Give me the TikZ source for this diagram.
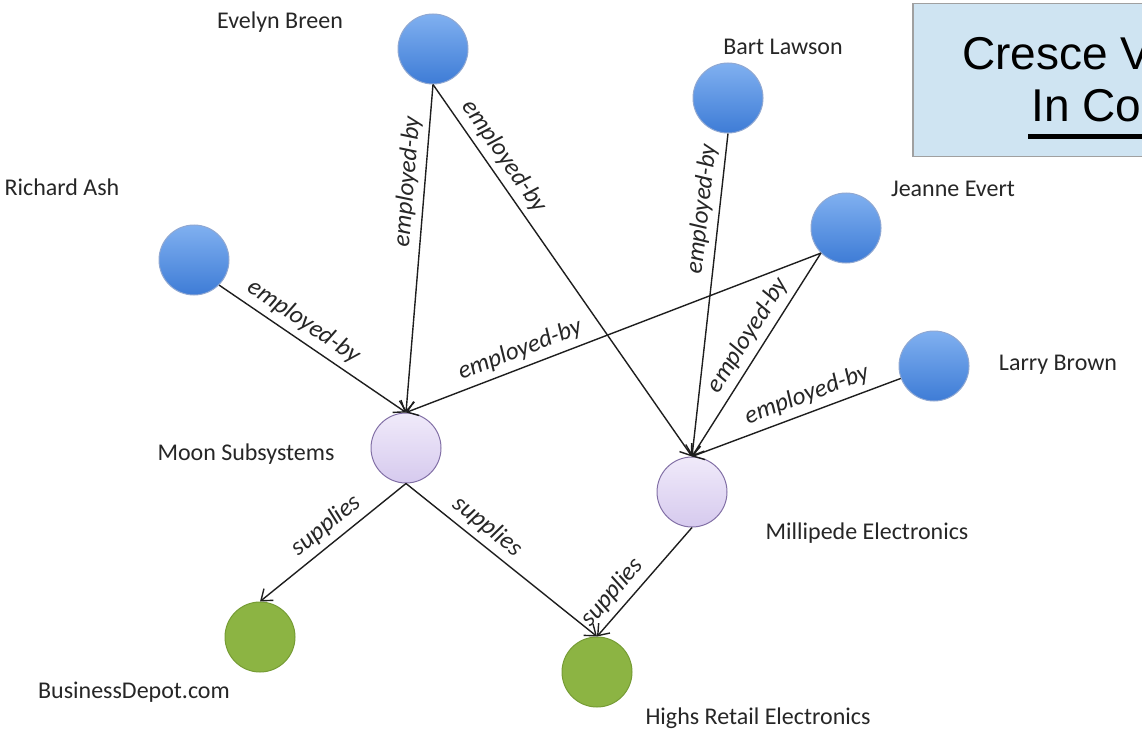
\documentclass[tikz,border=0pt]{standalone}
\usepackage{fontspec}
\setmainfont{Carlito}
\newfontfamily\boxfont{Liberation Sans}
\usetikzlibrary{arrows.meta}

\definecolor{edgeink}{RGB}{30,30,30}
\definecolor{bluetop}{RGB}{128,176,240}
\definecolor{bluebot}{RGB}{62,124,214}
\definecolor{blueline}{RGB}{70,110,180}
\definecolor{purptop}{RGB}{240,234,250}
\definecolor{purpbot}{RGB}{214,202,238}
\definecolor{purpline}{RGB}{130,112,166}
\definecolor{greenfill}{RGB}{140,180,67}
\definecolor{greenline}{RGB}{118,156,52}
\definecolor{notefill}{RGB}{207,228,242}
\definecolor{noteline}{RGB}{160,160,160}

\tikzset{
  ball/.style={circle, minimum size=70pt, inner sep=0pt, line width=1pt},
  person/.style={ball, draw=blueline!60, top color=bluetop, bottom color=bluebot},
  company/.style={ball, draw=purpline, top color=purptop, bottom color=purpbot},
  shop/.style={ball, draw=greenline, fill=greenfill},
  caption/.style={font=\fontsize{24}{27}\selectfont, text=black!85, inner sep=0pt},
  relarrow/.style={draw=edgeink, line width=1.4pt, -{Straight Barb[length=10pt,width=15pt]}},
  rellab/.style={font=\itshape\fontsize{25}{27}\selectfont, text=black!85, sloped, above, inner sep=6pt},
}

\begin{document}
\begin{tikzpicture}[x=1pt,y=-1pt]
\useasboundingbox (0,0) rectangle (1142,730);
\clip (0,0) rectangle (1142,730);

% note box in the upper right corner
\node[draw=noteline, line width=1.5pt, fill=notefill, minimum width=260pt, minimum height=153pt,
      anchor=north west, inner sep=0pt] (note) at (912,3) {};
\node[font=\boxfont\fontsize{46}{50}\selectfont, anchor=base west, inner sep=0pt] (notetitle) at (962,70) {Cresce V};
\node[font=\boxfont\fontsize{46}{50}\selectfont, anchor=base west, inner sep=0pt] (notelink) at (1031,122) {In Co};
\coordinate (ulstart) at (1028,136.5);
\coordinate (ulend) at (1150,136.5);
\draw[line width=5.5pt] (ulstart) -- (ulend);

% people
\node[person] (evelyn) at (433,49) {};
\node[person] (bart) at (728,98) {};
\node[person] (jeanne) at (846,228) {};
\node[person] (richard) at (194,260) {};
\node[person] (larry) at (934,366) {};

% companies
\node[company] (moon) at (406,448) {};
\node[company] (milli) at (692,492) {};

% retailers
\node[shop] (business) at (260,637) {};
\node[shop] (highs) at (597,672) {};

% captions
\node[caption] (evelynlab) at (280,22) {Evelyn Breen};
\node[caption] (bartlab) at (783,47) {Bart Lawson};
\node[caption] (jeannelab) at (953,189) {Jeanne Evert};
\node[caption] (richardlab) at (62,187) {Richard Ash};
\node[caption] (larrylab) at (1058,365) {Larry Brown};
\node[caption] (moonlab) at (246,454) {Moon Subsystems};
\node[caption] (millilab) at (867,533) {Millipede Electronics};
\node[caption] (businesslab) at (134,692) {BusinessDepot.com};
\node[caption] (highslab) at (758,718) {Highs Retail Electronics};

% employment
\draw[relarrow] (evelyn.south) -- node[rellab, pos=0.30] {employed-by} (moon.north);
\draw[relarrow] (evelyn.south) -- node[rellab, pos=0.22] {employed-by} (milli.north);
\draw[relarrow] (bart.south) -- node[rellab, pos=0.24] {employed-by} (milli.north);
\draw[relarrow] (jeanne.south west) -- node[rellab, pos=0.71] {employed-by} (moon.north);
\draw[relarrow] (jeanne.south west) -- node[rellab, pos=0.45] {employed-by} (milli.north);
\draw[relarrow] (richard.south east) -- node[rellab, pos=0.40] {employed-by} (moon.north);
\draw[relarrow] (larry) -- node[rellab, pos=0.42] {employed-by} (milli.north);

% supply chain
\draw[relarrow] (moon.south) -- node[rellab, pos=0.47] {supplies} (business.north);
\draw[relarrow] (moon.south) -- node[rellab, pos=0.37] {supplies} (highs.north);
\draw[relarrow] (milli.south) -- node[rellab, pos=0.70] {supplies} (highs.north);
\end{tikzpicture}
\end{document}
